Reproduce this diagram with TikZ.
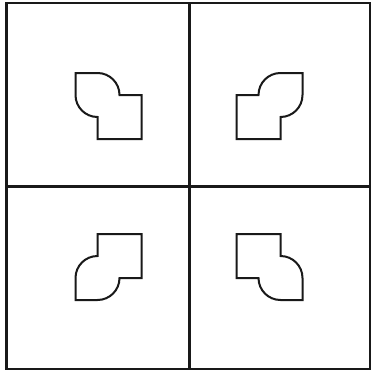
\documentclass[tikz,border=0pt]{standalone}
\begin{document}
\begin{tikzpicture}[x=1pt,y=-1pt,
  gridline/.style={draw=black!90,line width=2.3pt},
  shapeline/.style={draw=black!90,line width=2pt,line join=miter},
  leaf/.pic={\draw[shapeline] (-33,-33) -- (-11,-33) .. controls (1.15,-33) and (11,-23.15) .. (11,-11) -- (33,-11) -- (33,33) -- (-11,33) -- (-11,11) .. controls (-23.15,11) and (-33,1.15) .. (-33,-11) -- cycle;}]
\useasboundingbox (0,0) rectangle (371,372);
\fill[white] (0,0) rectangle (371,372);
% frame and dividers
\draw[gridline] (6.5,3) rectangle (370.5,369);
\coordinate (vt) at (189.5,3);
\coordinate (vb) at (189.5,369);
\coordinate (hl) at (6.5,186.5);
\coordinate (hr) at (370.5,186.5);
\draw[gridline] (vt) -- (vb);
\draw[gridline] (hl) -- (hr);
% shapes
\pic at (108.5,106) {leaf};
\pic[xscale=-1] at (269.5,106) {leaf};
\pic[yscale=-1] at (108.5,267) {leaf};
\pic[xscale=-1,yscale=-1] at (269.5,267) {leaf};
\end{tikzpicture}
\end{document}
